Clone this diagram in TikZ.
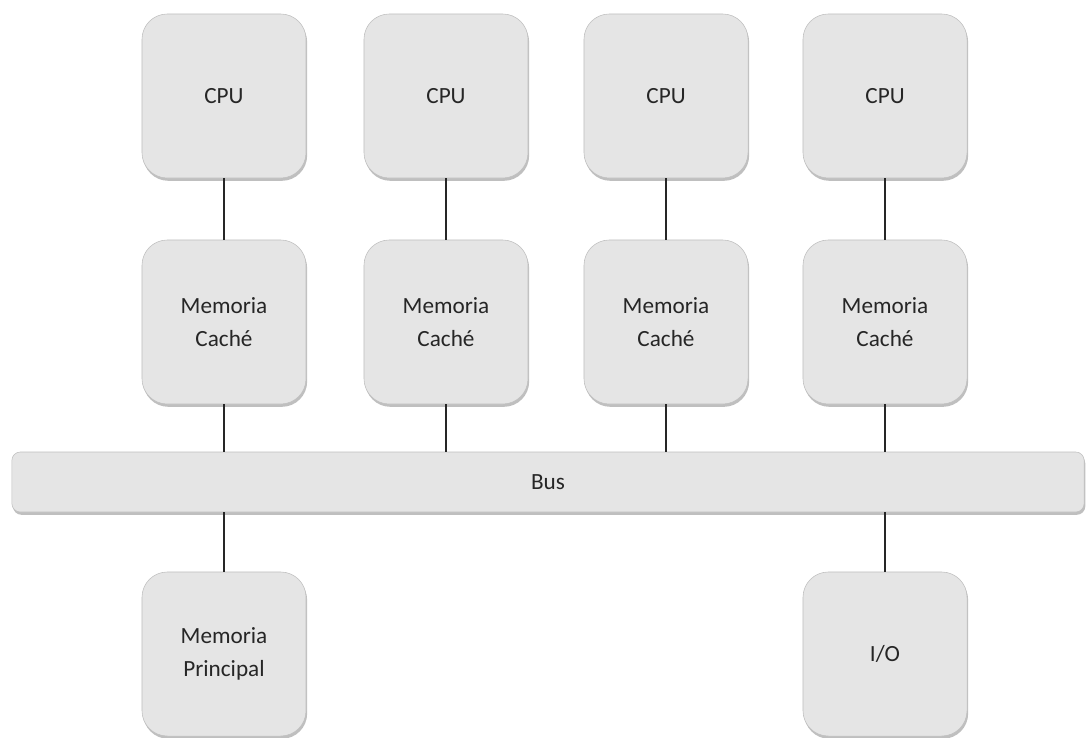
\documentclass[tikz,border=0pt]{standalone}
\usepackage{fontspec}
\setmainfont{Carlito}
\usetikzlibrary{shadows}
\tikzset{block/.style={draw=black!25, fill=black!10, rounded corners=18pt, minimum width=4.1cm, minimum height=4.1cm, align=center, text=black!85, font=\fontsize{16.5}{23}\selectfont, drop shadow={shadow xshift=0.8pt, shadow yshift=-2pt, opacity=0.5}}}
\tikzset{busbar/.style={block, rounded corners=6pt, minimum width=26.8cm, minimum height=1.5cm}}
\tikzset{link/.style={black!85, line width=0.9pt}}

\begin{document}
\begin{tikzpicture}[x=0.025cm, y=-0.025cm]
      \useasboundingbox (0, 0) rectangle (1090, 737);

      \node[block] (cpu1) at (224, 96) {CPU};
      \node[block] (cpu2) at (446, 96) {CPU};
      \node[block] (cpu3) at (666, 96) {CPU};
      \node[block] (cpu4) at (885, 96) {CPU};

      \node[block] (cache1) at (224, 322) {Memoria\\Caché};
      \node[block] (cache2) at (446, 322) {Memoria\\Caché};
      \node[block] (cache3) at (666, 322) {Memoria\\Caché};
      \node[block] (cache4) at (885, 322) {Memoria\\Caché};

      \node[busbar] (bus) at (548, 482) {Bus};

      \node[block] (mem) at (224, 654) {Memoria\\Principal};
      \node[block] (io) at (885, 654) {I/O};

      \draw[link] (cpu1) -- (cache1);
      \draw[link] (cpu2) -- (cache2);
      \draw[link] (cpu3) -- (cache3);
      \draw[link] (cpu4) -- (cache4);

      \draw[link] (cache1) -- (cache1 |- bus.north);
      \draw[link] (cache2) -- (cache2 |- bus.north);
      \draw[link] (cache3) -- (cache3 |- bus.north);
      \draw[link] (cache4) -- (cache4 |- bus.north);

      \draw[link] (mem |- bus.south) -- (mem);
      \draw[link] (io |- bus.south) -- (io);
    \end{tikzpicture}
\end{document}
